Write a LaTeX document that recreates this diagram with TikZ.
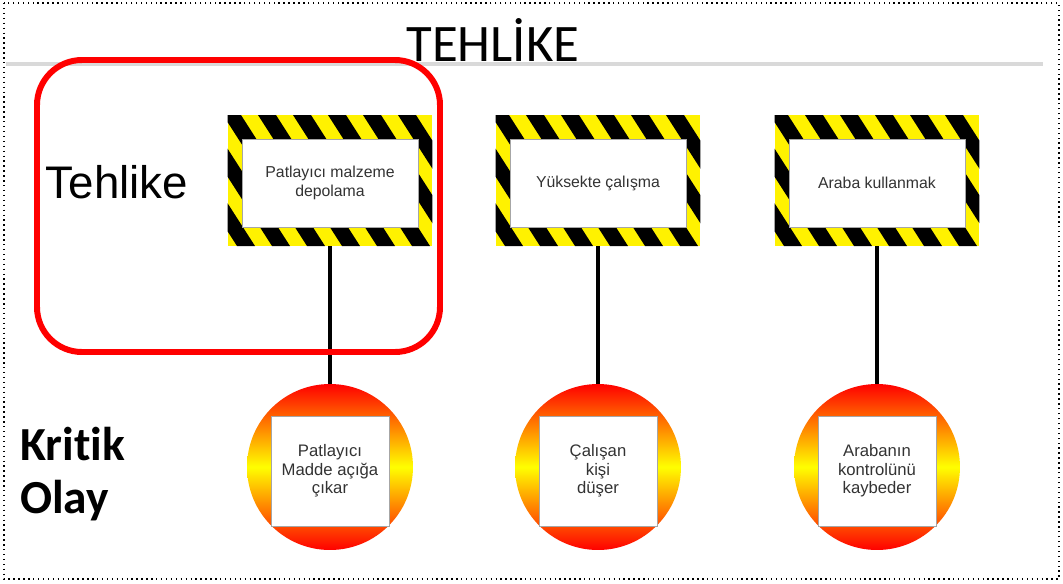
\documentclass[tikz,border=0pt]{standalone}
\usepackage{fontspec}
\setmainfont{Liberation Sans}
\newfontfamily\calibri[Ligatures=NoCommon]{Carlito}
\usetikzlibrary{positioning}

\tikzset{
  hazard/.style={minimum width=4.08cm, minimum height=2.62cm, inner sep=0pt},
  hazlabel/.style={draw=gray!70, fill=white, minimum width=3.52cm, minimum height=1.76cm, align=center, font=\fontsize{9}{11}\selectfont, text=black!80},
  event/.style={circle, minimum size=3.32cm, inner sep=0pt, top color=red, bottom color=red, middle color=yellow},
  evlabel/.style={draw=gray!70, fill=white, minimum width=2.36cm, minimum height=2.2cm, align=center, font=\fontsize{9.5}{10.5}\selectfont, text=black!80},
  stem/.style={line width=2.8pt}
}

\begin{document}
\begin{tikzpicture}[x=0.02cm, y=-0.02cm, >=stealth]
\useasboundingbox (0,0) rectangle (1063,583);

% Slide frame and title
\draw[dotted, thick] (4,3) rectangle (1059,579);
\draw[black!15, line width=2pt] (6,64) -- (1043,64);
\node[font=\calibri\fontsize{30}{32}\selectfont] (title) at (493,40) {TEHLİKE};

% Hazards (striped signs)
\foreach \i/\x/\txt in {1/330/{Patlayıcı malzeme\\depolama}, 2/598/{Yüksekte çalışma}, 3/877/{Araba kullanmak}} {
    \node[hazard] (hz\i) at (\x,180.5) {};
    \begin{scope}
        \clip (hz\i.south west) rectangle (hz\i.north east);
        \fill[yellow] (hz\i.south west) rectangle (hz\i.north east);
        \foreach \s in {-4,...,7} {
            \fill[black] (\x-107+\s*35,115) -- ++(18,0) -- ++(84,131) -- ++(-18,0) -- cycle;
        }
    \end{scope}
    \node[hazlabel] (hl\i) at (\x,183) {\txt};
}

% Critical events (round signs)
\foreach \i/\x/\txt in {1/330/{Patlayıcı\\Madde açığa\\çıkar}, 2/598/{Çalışan\\kişi\\düşer}, 3/877/{Arabanın\\kontrolünü\\kaybeder}} {
    \node[event] (ev\i) at (\x,467) {};
    \node[evlabel] (el\i) at (\x,471) {\txt};
}

% Stems
\foreach \i in {1,2,3} {
    \draw[stem] (hz\i.south) -- (ev\i.north);
}

% Side labels
\draw[red, line width=3.4pt, rounded corners=0.9cm] (37,60) rectangle (440,352);
\node[font=\fontsize{26}{30}\selectfont] (hazname) at (117,182) {Tehlike};
\node[font=\calibri\bfseries\fontsize{27}{30}\selectfont, align=left, anchor=west] (evname) at (14,474) {Kritik\\Olay};

\end{tikzpicture}
\end{document}
